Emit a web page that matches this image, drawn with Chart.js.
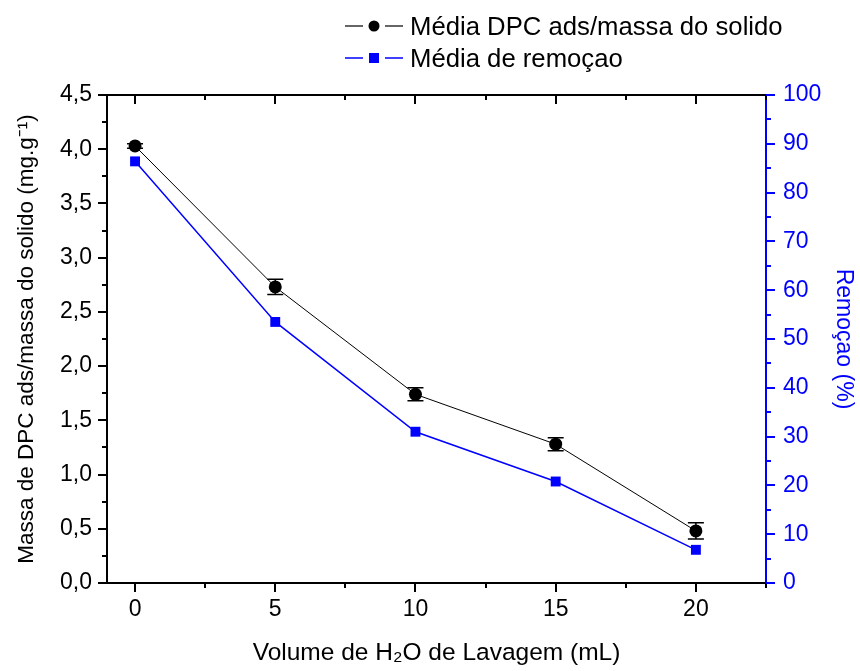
<!DOCTYPE html>
<html>
<head>
<meta charset="utf-8">
<script src="https://cdn.jsdelivr.net/npm/chart.js@4/dist/chart.umd.min.js"></script>
<style>
  html, body { margin: 0; padding: 0; background: #fff; }
  #wrap { position: relative; width: 860px; height: 671px; }
  #legend { position: absolute; left: 345px; top: 10px; font-family: "Liberation Sans", Arial, sans-serif; font-size: 25.7px; color: #000; }
  .row { height: 32px; line-height: 32px; display: flex; align-items: center; white-space: nowrap; }
  .row svg { margin-right: 7px; }
</style>
</head>
<body>
<div id="wrap">
  <canvas id="c" width="860" height="671"></canvas>
  <div id="legend"></div>
</div>
<script>
const FONT = '"Liberation Sans", Arial, sans-serif';

const volumes = [0, 5, 10, 15, 20];
const massaMedia = [4.03, 2.73, 1.74, 1.28, 0.48];
const massaErro = [0.02, 0.07, 0.06, 0.06, 0.075];
const remocaoMedia = [86.4, 53.5, 31.0, 20.8, 6.8];

const xTicks = [0, 5, 10, 15, 20];
const yLeftTicks = [0, 0.5, 1.0, 1.5, 2.0, 2.5, 3.0, 3.5, 4.0, 4.5];
const yRightTicks = [0, 10, 20, 30, 40, 50, 60, 70, 80, 90, 100];

const seriesNames = ['Média DPC ads/massa do solido', 'Média de remoçao'];
const xTitle = 'Volume de H\u2082O de Lavagem (mL)';
const yLeftTitle = 'Massa de DPC ads/massa do solido (mg.g\u207B\u00B9)';
const yRightTitle = 'Remoçao (%)';

// legend (HTML text)
const legend = document.getElementById('legend');
legend.innerHTML =
  '<div class="row"><svg width="58" height="32"><line x1="0" y1="16" x2="18" y2="16" stroke="#000" stroke-width="1.2"/><circle cx="29" cy="16" r="5.5" fill="#000"/><line x1="40" y1="16" x2="58" y2="16" stroke="#000" stroke-width="1.2"/></svg><span>' + seriesNames[0] + '</span></div>' +
  '<div class="row"><svg width="58" height="32"><line x1="0" y1="16" x2="18" y2="16" stroke="#0000ff" stroke-width="1.5"/><rect x="24" y="11" width="10" height="10" fill="#0000ff"/><line x1="40" y1="16" x2="58" y2="16" stroke="#0000ff" stroke-width="1.5"/></svg><span>' + seriesNames[1] + '</span></div>';

const tickPlugin = {
  id: 'ticksAndErrors',
  beforeDatasetsDraw(chart) {
    const ctx = chart.ctx;
    const y = chart.scales.y, x = chart.scales.x;
    ctx.save();
    ctx.strokeStyle = '#000';
    ctx.lineWidth = 1.5;
    volumes.forEach((v, i) => {
      const px = x.getPixelForValue(v);
      const top = y.getPixelForValue(massaMedia[i] + massaErro[i]);
      const bot = y.getPixelForValue(massaMedia[i] - massaErro[i]);
      ctx.beginPath();
      ctx.moveTo(px, top); ctx.lineTo(px, bot);
      ctx.moveTo(px - 8, top); ctx.lineTo(px + 8, top);
      ctx.moveTo(px - 8, bot); ctx.lineTo(px + 8, bot);
      ctx.stroke();
    });
    ctx.restore();
  },
  afterDraw(chart) {
    const ctx = chart.ctx;
    const {left, right, top, bottom} = chart.chartArea;
    const {x, y, y1} = chart.scales;
    ctx.save();
    ctx.lineWidth = 2;
    ctx.strokeStyle = '#000';
    ctx.beginPath();
    ctx.moveTo(left - 1, top); ctx.lineTo(right + 1, top);
    ctx.stroke();
    ctx.beginPath();
    for (let i = 0; i <= 9; i++) {
      const v = i * 2.5;
      const px = Math.round(x.getPixelForValue(v));
      const len = (i % 2 === 0) ? 9 : 5;
      ctx.moveTo(px, bottom); ctx.lineTo(px, bottom + len);
      ctx.moveTo(px, top); ctx.lineTo(px, top + len);
    }
    for (let i = 0; i <= 18; i++) {
      const v = i * 0.25;
      const py = Math.round(y.getPixelForValue(v));
      const len = (i % 2 === 0) ? 9 : 5;
      ctx.moveTo(left, py); ctx.lineTo(left - len, py);
    }
    ctx.stroke();
    ctx.strokeStyle = '#0000ff';
    ctx.beginPath();
    for (let i = 0; i <= 20; i++) {
      const v = i * 5;
      const py = Math.round(y1.getPixelForValue(v));
      const len = (i % 2 === 0) ? 9 : 5;
      ctx.moveTo(right, py); ctx.lineTo(right + len, py);
    }
    ctx.stroke();
    ctx.restore();
  }
};

const tickFont = {family: FONT, size: 23};

new Chart(document.getElementById('c'), {
  type: 'line',
  data: {
    datasets: [
      {
        label: seriesNames[0],
        data: volumes.map((v, i) => ({x: v, y: massaMedia[i]})),
        yAxisID: 'y',
        borderColor: '#000',
        backgroundColor: '#000',
        borderWidth: 1,
        pointStyle: 'circle',
        pointRadius: 6.5,
        pointBorderWidth: 0,
        pointBackgroundColor: '#000',
        tension: 0
      },
      {
        label: seriesNames[1],
        data: volumes.map((v, i) => ({x: v, y: remocaoMedia[i]})),
        yAxisID: 'y1',
        borderColor: '#0000ff',
        backgroundColor: '#0000ff',
        borderWidth: 1.5,
        pointStyle: 'rect',
        pointRadius: 7,
        pointBorderWidth: 0,
        pointBackgroundColor: '#0000ff',
        tension: 0
      }
    ]
  },
  options: {
    responsive: false,
    animation: false,
    devicePixelRatio: 1,
    layout: {padding: {top: 95, left: 0, right: 0, bottom: 0}},
    plugins: {legend: {display: false}, tooltip: {enabled: false}},
    scales: {
      x: {
        type: 'linear', position: 'bottom', min: -1, max: 22.5,
        afterBuildTicks: s => { s.ticks = xTicks.map(v => ({value: v})); },
        afterFit: s => { s.height = 88; },
        grid: {display: true, drawOnChartArea: false, color: 'rgba(0,0,0,0)', tickLength: 9},
        border: {display: true, color: '#000', width: 2},
        ticks: {autoSkip: false, maxRotation: 0, padding: 4, color: '#000', font: tickFont, callback: v => String(v)},
        title: {display: true, text: xTitle, color: '#000', font: {family: FONT, size: 24.5}, padding: {top: 0, bottom: 3}}
      },
      y: {
        type: 'linear', position: 'left', min: 0, max: 4.5,
        afterBuildTicks: s => { s.ticks = yLeftTicks.map(v => ({value: v})); },
        afterFit: s => { s.width = 107; },
        grid: {display: true, drawOnChartArea: false, color: 'rgba(0,0,0,0)', tickLength: 9},
        border: {display: true, color: '#000', width: 2},
        ticks: {autoSkip: false, padding: 6, color: '#000', font: tickFont, callback: v => v.toFixed(1).replace('.', ',')},
        title: {display: true, text: yLeftTitle, color: '#000', font: {family: FONT, size: 22.5}, padding: {top: 13, bottom: 0}}
      },
      y1: {
        type: 'linear', position: 'right', min: 0, max: 100,
        afterBuildTicks: s => { s.ticks = yRightTicks.map(v => ({value: v})); },
        afterFit: s => { s.width = 94; },
        grid: {display: true, drawOnChartArea: false, color: 'rgba(0,0,0,0)', tickLength: 9},
        border: {display: true, color: '#0000ff', width: 2},
        ticks: {autoSkip: false, padding: 8, color: '#0000ff', font: tickFont, callback: v => String(v)},
        title: {display: true, text: yRightTitle, color: '#0000ff', font: {family: FONT, size: 23}, padding: {top: 3, bottom: 0}}
      }
    }
  },
  plugins: [tickPlugin]
});
</script>
</body>
</html>
